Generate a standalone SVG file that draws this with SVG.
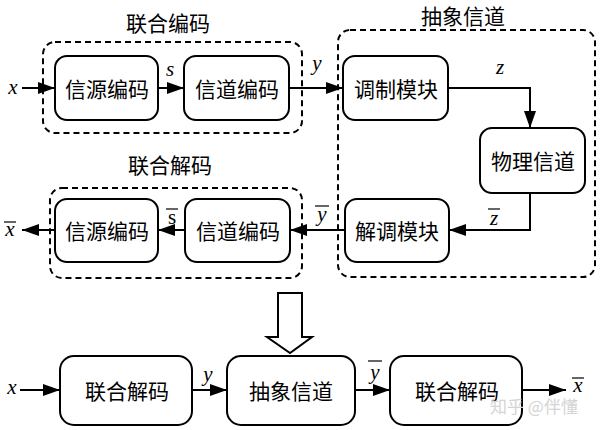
<svg xmlns="http://www.w3.org/2000/svg" width="600" height="430" viewBox="0 0 600 430">
<defs>
<marker id="ah" markerWidth="18" markerHeight="14" refX="17" refY="7" orient="auto" markerUnits="userSpaceOnUse">
<path d="M0,1 L17,7 L0,13 Z" fill="#000"/>
</marker>
<style>
.box{fill:#fff;stroke:#000;stroke-width:2}
.grp{fill:none;stroke:#000;stroke-width:2;stroke-dasharray:6 4}
.cn{font-family:"Noto Sans CJK SC","Noto Sans CJK JP",sans-serif;font-size:21px;fill:#000;text-anchor:middle;dominant-baseline:central}
.var{font-family:"Liberation Serif",serif;font-style:italic;font-size:21px;fill:#000;text-anchor:middle}
.up{font-family:"Liberation Serif",serif;font-size:21px;fill:#000;text-anchor:middle}
.ol{stroke:#000;stroke-width:1.2}
.wire{fill:none;stroke:#000;stroke-width:2;marker-end:url(#ah)}
.wm{font-family:"Noto Sans CJK SC",sans-serif;font-size:17px;fill:#d4d4d4;text-anchor:start}
</style>
</defs>
<rect width="600" height="430" fill="#fff"/>

<g id="groups">
<g id="joint-encoding-group">
<rect class="grp" x="43" y="42" width="259" height="91" rx="12"/>
<text class="cn" x="168" y="22">联合编码</text>
</g>
<g id="abstract-channel-group">
<rect class="grp" x="338" y="30" width="257" height="247" rx="12"/>
<text class="cn" x="463" y="15">抽象信道</text>
</g>
<g id="joint-decoding-group">
<rect class="grp" x="50" y="188" width="252" height="90" rx="12"/>
<text class="cn" x="170" y="164">联合解码</text>
</g>
</g>

<g id="connectors">
<path class="wire" d="M22,88 H55"/>
<path class="wire" d="M158,88 H184"/>
<path class="wire" d="M289,88 H343"/>
<path class="wire" d="M448,88 H530 V128"/>
<path class="wire" d="M530,193 V230 H449"/>
<path class="wire" d="M345,230 H290"/>
<path class="wire" d="M185,230 H158"/>
<path class="wire" d="M55,230 H22"/>
<path class="wire" d="M20,390 H60"/>
<path class="wire" d="M192,390 H227"/>
<path class="wire" d="M355,390 H390"/>
<path class="wire" d="M522,390 H566"/>
</g>

<g id="src-enc">
<rect class="box" x="55" y="56" width="103" height="64" rx="12"/>
<text class="cn" x="107" y="88">信源编码</text>
</g>
<g id="ch-enc">
<rect class="box" x="184" y="56" width="105" height="64" rx="12"/>
<text class="cn" x="237" y="88">信道编码</text>
</g>
<g id="mod">
<rect class="box" x="343" y="56" width="105" height="64" rx="12"/>
<text class="cn" x="396" y="88">调制模块</text>
</g>
<g id="phys">
<rect class="box" x="480" y="128" width="105" height="65" rx="12"/>
<text class="cn" x="533" y="160">物理信道</text>
</g>
<g id="demod">
<rect class="box" x="345" y="199" width="104" height="63" rx="12"/>
<text class="cn" x="397" y="230">解调模块</text>
</g>
<g id="ch-dec">
<rect class="box" x="185" y="199" width="105" height="63" rx="12"/>
<text class="cn" x="238" y="230">信道编码</text>
</g>
<g id="src-dec">
<rect class="box" x="55" y="199" width="103" height="63" rx="12"/>
<text class="cn" x="107" y="230">信源编码</text>
</g>

<g id="big-arrow">
<path d="M278,293 H302 V337 H312 L290,353 L267,337 H278 Z" fill="#fff" stroke="#000" stroke-width="2" stroke-linejoin="miter"/>
</g>

<g id="joint-dec-1">
<rect class="box" x="60" y="356" width="132" height="69" rx="14"/>
<text class="cn" x="127" y="390">联合解码</text>
</g>
<g id="abstract-ch">
<rect class="box" x="227" y="356" width="128" height="69" rx="14"/>
<text class="cn" x="291" y="390">抽象信道</text>
</g>
<g id="joint-dec-2">
<rect class="box" x="390" y="356" width="132" height="69" rx="14"/>
<text class="cn" x="457" y="390">联合解码</text>
</g>

<g id="labels">
<text class="var" x="13" y="94">x</text>
<text class="var" x="170" y="76">s</text>
<text class="var" x="317" y="70">y</text>
<text class="var" x="500" y="74">z</text>
<text class="var" x="494" y="225">z</text>
<line class="ol" x1="488" y1="209" x2="500" y2="209"/>
<text class="var" x="322" y="221">y</text>
<line class="ol" x1="315" y1="206" x2="329" y2="206"/>
<text class="up" x="172" y="224">s</text>
<line class="ol" x1="166" y1="209" x2="178" y2="209"/>
<text class="var" x="10" y="236">x</text>
<line class="ol" x1="4" y1="222" x2="16" y2="222"/>
<text class="var" x="12" y="394">x</text>
<text class="var" x="208" y="381">y</text>
<text class="var" x="375" y="379">y</text>
<line class="ol" x1="368" y1="361" x2="382" y2="361"/>
<text class="var" x="578" y="392">x</text>
<line class="ol" x1="572" y1="378" x2="584" y2="378"/>
</g>

<text class="wm" x="490" y="413">知乎 @伴懂</text>
</svg>
